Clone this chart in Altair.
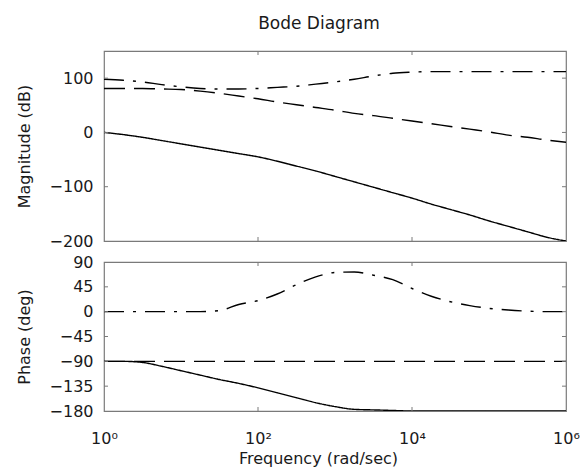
import altair as alt
import pandas as pd

# frequency grid (rad/sec), quarter-decade points
freq = [1, 1.778, 3.162, 5.623, 10, 17.78, 31.62, 56.23, 100, 177.8, 316.2, 562.3,
        1000, 1778, 3162, 5623, 10000, 17780, 31620, 56230, 100000, 177800, 316200,
        562300, 1000000]

series = ["sys1", "sys2", "sys3"]

# magnitude (dB)
mag_sys1 = [0, -4, -9, -15, -21, -27, -33, -39, -45, -53, -62, -71, -81, -91, -101,
            -111, -121, -132, -142, -152, -163, -173, -183, -193, -200]
mag_sys2 = [81, 81, 81, 80, 79, 76, 72, 67, 62, 56, 51, 46, 41, 35, 31, 26, 21, 16,
            11, 6, 1, -5, -9, -14, -18]
mag_sys3 = [98, 96, 93, 88, 84, 81, 80, 80, 81, 83, 85, 89, 93, 98, 104, 109, 111,
            112, 112, 112, 112, 112, 112, 112, 112]

# phase (deg)
ph_sys1 = [-90, -90, -92, -99, -107, -115, -123, -130, -138, -147, -156, -165, -172,
           -177, -178, -179, -180, -180, -180, -180, -180, -180, -180, -180, -180]
ph_sys2 = [-90] * 25
ph_sys3 = [0, 0, 0, 0, 0, 0, 2, 13, 20, 32, 49, 63, 71, 72, 66, 58, 42, 28, 18, 11,
           6, 3, 1, 0, 0]

mag_ticks = [-200, -100, 0, 100]
ph_ticks = [-180, -135, -90, -45, 0, 45, 90]
freq_ticks = [1, 100, 10000, 1000000]

mag_domain = [-200, 150]
ph_domain = [-180, 90]
W, H1, H2 = 462, 190, 149
FONT = "DejaVu Sans"
TXT = "#1a1a1a"
FRAME = "#7a7a7a"


def long(vals):
    rows = []
    for s, v in zip(series, vals):
        for f, y in zip(freq, v):
            rows.append({"freq": f, "value": y, "series": s})
    return pd.DataFrame(rows)


mag_df = long([mag_sys1, mag_sys2, mag_sys3])
ph_df = long([ph_sys1, ph_sys2, ph_sys3])

xscale = alt.Scale(type="log", domain=[1, 1e6], nice=False)
dash = alt.Scale(domain=series, range=[[1, 0], [21, 9], [20, 9, 3, 9]])

label_expr = ("datum.value == 1 ? '10\u2070' : datum.value == 100 ? '10\u00b2' : "
              "datum.value == 10000 ? '10\u2074' : '10\u2076'")


def panel(df, ydomain, yticks, ytitle, height, show_x):
    yscale = alt.Scale(domain=ydomain, nice=False, zero=False)
    if show_x:
        xaxis = alt.Axis(values=freq_ticks, labelExpr=label_expr, title="Frequency (rad/sec)",
                         ticks=False, domain=False, grid=False, labelFontSize=16,
                         labelPadding=19, titleFontSize=16, titlePadding=4,
                         labelFlush=False, titleX=W / 2 - 17)
    else:
        xaxis = None
    yaxis = alt.Axis(values=yticks, title=ytitle, ticks=False, domain=False,
                     grid=False, labelFontSize=16, labelPadding=11,
                     titleFontSize=16, titlePadding=17)
    lines = alt.Chart(df).mark_line(color="black", strokeWidth=1.4,
                                    interpolate="monotone", clip=True).encode(
        x=alt.X("freq:Q", scale=xscale, axis=xaxis),
        y=alt.Y("value:Q", scale=yscale, axis=yaxis),
        strokeDash=alt.StrokeDash("series:N", scale=dash, legend=None),
        detail="series:N",
    )
    inner_y = pd.DataFrame({"value": [t for t in yticks if ydomain[0] < t < ydomain[1]]})
    inner_x = pd.DataFrame({"freq": [t for t in freq_ticks if 1 < t < 1e6]})
    tick_style = dict(color=FRAME, strokeWidth=1)
    yl = alt.Chart(inner_y).mark_rule(**tick_style).encode(
        y=alt.Y("value:Q", scale=yscale, axis=yaxis), x=alt.value(0), x2=alt.value(4))
    yr = alt.Chart(inner_y).mark_rule(**tick_style).encode(
        y=alt.Y("value:Q", scale=yscale, axis=yaxis), x=alt.value(W - 4), x2=alt.value(W))
    xt = alt.Chart(inner_x).mark_rule(**tick_style).encode(
        x=alt.X("freq:Q", scale=xscale, axis=xaxis), y=alt.value(0), y2=alt.value(4))
    xb = alt.Chart(inner_x).mark_rule(**tick_style).encode(
        x=alt.X("freq:Q", scale=xscale, axis=xaxis), y=alt.value(height - 4),
        y2=alt.value(height))
    return alt.layer(lines, yl, yr, xt, xb).properties(width=W, height=height)


top = panel(mag_df, mag_domain, mag_ticks, "Magnitude (dB)", H1, False).properties(
    title=alt.TitleParams("Bode Diagram", fontSize=17, font=FONT, fontWeight="normal",
                          color=TXT, anchor="middle", dx=-16, offset=18))
bottom = panel(ph_df, ph_domain, ph_ticks, "Phase (deg)", H2, True)

chart = alt.vconcat(top, bottom, spacing=3).properties(
    padding={"left": 15, "top": 13, "right": 5, "bottom": 5},
    background="white",
).configure_view(stroke=FRAME, strokeWidth=1.2).configure_axis(
    labelFont=FONT, titleFont=FONT, labelColor=TXT, titleColor=TXT,
    titleFontWeight="normal",
)

chart.save("out.html", embed_options={"renderer": "svg", "actions": False})
